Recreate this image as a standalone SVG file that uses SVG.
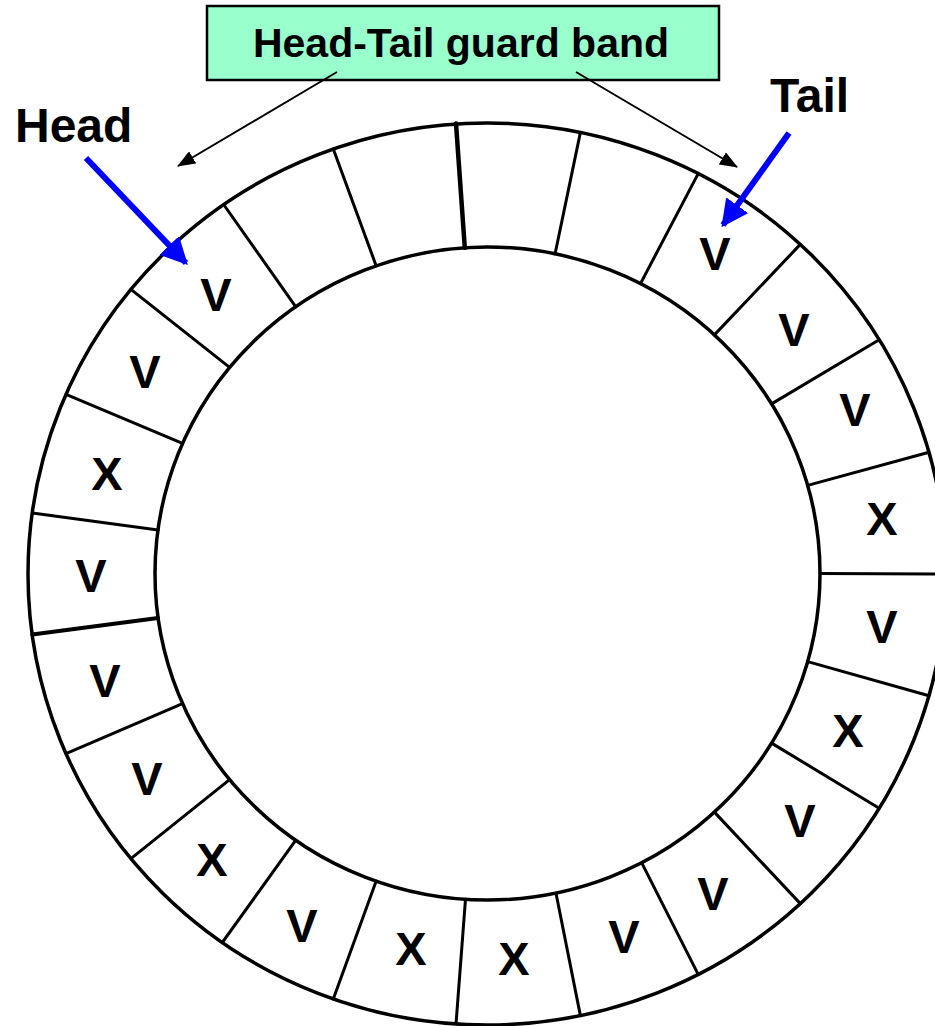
<svg xmlns="http://www.w3.org/2000/svg" width="935" height="1026" viewBox="0 0 935 1026">
  <style>
    .ring { fill: none; stroke: #000; stroke-width: 3.5; }
    .div { stroke: #000; stroke-width: 3; stroke-linecap: round; }
    .cell { font-family: "Liberation Sans", Arial, sans-serif; font-weight: bold; font-size: 47px; text-anchor: middle; fill: #000; }
    .lbl { font-family: "Liberation Sans", Arial, sans-serif; font-weight: bold; font-size: 48px; fill: #000; }
    .band { font-family: "Liberation Sans", Arial, sans-serif; font-weight: bold; font-size: 41px; text-anchor: middle; fill: #000; }
    .thin { stroke: #000; stroke-width: 2; fill: none; }
    .blue { stroke: #0000FF; stroke-width: 6; fill: none; }
  </style>
  <defs>
    <marker id="blackHead" viewBox="0 0 18 14" refX="17" refY="7" markerWidth="18" markerHeight="14" markerUnits="userSpaceOnUse" orient="auto">
      <path d="M0,0 L18,7 L0,14 Z" fill="#000"/>
    </marker>
    <marker id="blueHead" viewBox="0 0 10 10" refX="9" refY="5" markerWidth="4.5" markerHeight="4.5" orient="auto">
      <path d="M0,0 L10,5 L0,10 Z" fill="#0000FF"/>
    </marker>
  </defs>

  <rect width="935" height="1026" fill="#fff"/>

  <!-- circular buffer: outer and inner rims -->
  <g id="ring">
    <ellipse class="ring" cx="487" cy="574" rx="459" ry="451"/>
    <ellipse class="ring" cx="487.5" cy="573.5" rx="332.5" ry="326.5"/>
  </g>

  <!-- 23 slot dividers -->
  <g id="slots">
    <line class="div" x1="946" y1="574" x2="820" y2="573.5"/>
    <line class="div" x1="929" y1="452.3" x2="807.7" y2="485.4"/>
    <line class="div" x1="879.2" y1="339.7" x2="771.6" y2="403.9"/>
    <line class="div" x1="800.3" y1="244.4" x2="714.4" y2="334.9"/>
    <line class="div" x1="698.2" y1="173.6" x2="640.5" y2="283.6"/>
    <line class="div" x1="580.4" y1="132.4" x2="555.1" y2="253.8"/>
    <line class="div" x1="456" y1="123.5" x2="464.8" y2="247.8" style="stroke-width:4.5"/>
    <line class="div" x1="333.3" y1="149" x2="376.2" y2="265.9"/>
    <line class="div" x1="224" y1="205" x2="295.8" y2="306.8"/>
    <line class="div" x1="130.9" y1="289.4" x2="229.6" y2="367.4"/>
    <line class="div" x1="66" y1="394.3" x2="182.5" y2="443.4"/>
    <line class="div" x1="32.3" y1="513" x2="158.1" y2="530"/>
    <line class="div" x1="32.3" y1="634.5" x2="158.1" y2="618" style="stroke-width:4"/>
    <line class="div" x1="66" y1="753.7" x2="182.5" y2="703.6"/>
    <line class="div" x1="130.9" y1="858.6" x2="229.6" y2="779.6"/>
    <line class="div" x1="222.3" y1="942.5" x2="295.8" y2="840.2"/>
    <line class="div" x1="333.3" y1="999" x2="376.2" y2="881.1"/>
    <line class="div" x1="456" y1="1024" x2="465.5" y2="899.2"/>
    <line class="div" x1="580.4" y1="1015.6" x2="556" y2="893.2"/>
    <line class="div" x1="698.2" y1="974.4" x2="642" y2="863.4"/>
    <line class="div" x1="800.3" y1="903.6" x2="714.4" y2="812.1"/>
    <line class="div" x1="879.2" y1="808.3" x2="771.6" y2="743.1"/>
    <line class="div" x1="929" y1="695.7" x2="807.7" y2="661.6"/>
  </g>

  <!-- slot contents: V = valid, X = invalid -->
  <g id="slot-labels">
    <text class="cell" x="882" y="535">X</text>
    <text class="cell" x="855" y="426">V</text>
    <text class="cell" x="794" y="346">V</text>
    <text class="cell" x="715" y="270">V</text>
    <text class="cell" x="216" y="311">V</text>
    <text class="cell" x="145" y="388">V</text>
    <text class="cell" x="107" y="490">X</text>
    <text class="cell" x="91" y="592">V</text>
    <text class="cell" x="105" y="697">V</text>
    <text class="cell" x="147" y="795">V</text>
    <text class="cell" x="212" y="876">X</text>
    <text class="cell" x="302" y="942">V</text>
    <text class="cell" x="411" y="965">X</text>
    <text class="cell" x="514" y="975">X</text>
    <text class="cell" x="624" y="953">V</text>
    <text class="cell" x="713" y="910">V</text>
    <text class="cell" x="800" y="837">V</text>
    <text class="cell" x="848" y="747">X</text>
    <text class="cell" x="882" y="643">V</text>
  </g>

  <!-- guard band callout -->
  <g id="guard-band">
    <rect x="207" y="6" width="512" height="74" fill="#99FFCC" stroke="#000" stroke-width="2.5"/>
    <text class="band" x="461" y="57">Head-Tail guard band</text>
  </g>

  <g id="head-label">
    <text class="lbl" x="15" y="142">Head</text>
  </g>
  <g id="tail-label">
    <text class="lbl" x="770" y="112">Tail</text>
  </g>

  <!-- pointers -->
  <g id="connectors">
    <line class="thin" x1="337" y1="72" x2="178" y2="166" marker-end="url(#blackHead)"/>
    <line class="thin" x1="576" y1="72" x2="737" y2="167" marker-end="url(#blackHead)"/>
    <line class="blue" x1="86" y1="158" x2="186" y2="263" marker-end="url(#blueHead)"/>
    <line class="blue" x1="789" y1="133" x2="723" y2="225" marker-end="url(#blueHead)"/>
  </g>
</svg>
